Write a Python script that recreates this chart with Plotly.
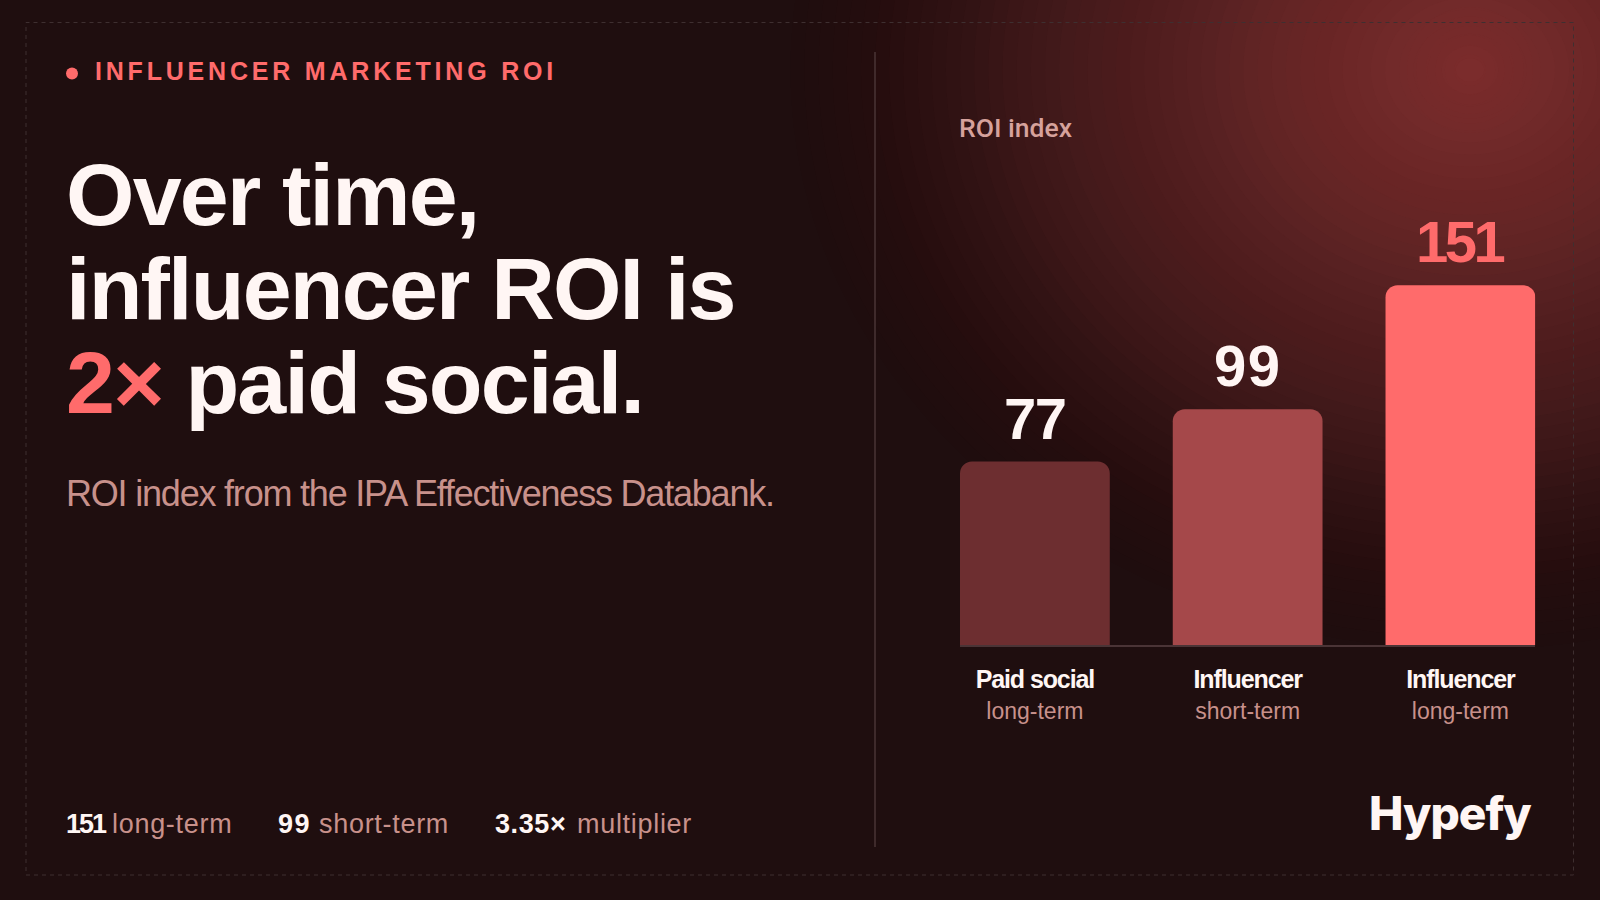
import plotly.graph_objects as go

# ---------------- data ----------------
categories = ["Paid social", "Influencer", "Influencer"]
periods = ["long-term", "short-term", "long-term"]
roi_index = [77, 99, 151]

stat_values = ["151", "99", "3.35×"]
stat_labels = ["long-term", "short-term", "multiplier"]

eyebrow = "INFLUENCER MARKETING ROI"
headline_lines = ["Over time,", "influencer ROI is", "paid social."]
headline_accent = "2×"
subtitle = "ROI index from the IPA Effectiveness Databank."
axis_title = "ROI index"
brand = "Hypefy"

# ---------------- style ----------------
W, H = 1600, 900
BG = "#1f0e0f"
WHITE = "#fff6f4"
CORAL = "#ff6b6b"
PINK = "#c8918b"
PINK_LIGHT = "#d6a29c"
SANS = "Liberation Sans, Arial, sans-serif"
bar_colors = ["#6d2e30", "#a5484a", "#ff6b6b"]
value_colors = [WHITE, WHITE, CORAL]
value_spacing = [-1.5, 1.5, -3.5]      # letter-spacing (px) per value label
stat_spacing = [-2.0, 1.5, 0.6]        # letter-spacing (px) per stat number

annotations = []
shapes = []


def px_x(x):
    return x / W


def px_y(y):
    return 1 - y / H


def text_at(s, x, base, size, color, family=SANS, weight=400, anchor="left",
            ls=None, asc=0.905, desc=0.212):
    yc = base - (asc - desc) / 2 * size
    if ls is not None:
        s = f'<span style="letter-spacing:{ls}px">{s}</span>'
    annotations.append(dict(
        text=s, x=px_x(x), y=px_y(yc), xref="paper", yref="paper",
        xanchor=anchor, yanchor="middle", showarrow=False, borderpad=0,
        font=dict(family=family, size=size, color=color, weight=weight)))


# ---------------- background glow (stacked ellipses) ----------------
def interp(u, pts):
    if u <= pts[0][0]:
        return pts[0][1]
    for (u0, v0), (u1, v1) in zip(pts[:-1], pts[1:]):
        if u <= u1:
            return v0 + (v1 - v0) * (u - u0) / (u1 - u0)
    return pts[-1][1]


glow_profile = [(0, 0.88), (0.11, 0.85), (0.31, 0.71), (0.58, 0.45),
                (0.73, 0.27), (0.87, 0.10), (1.0, 0.0)]
N = 48
cx, cy, rx, ry = 1470, 70, 680, 580
S = lambda u: 1 - interp(u, glow_profile)
for k in range(N, 0, -1):
    mid_k = (k - 0.5) / N
    mid_next = (k + 0.5) / N
    s_next = 1.0 if k == N else S(mid_next)
    a = 1 - S(mid_k) / s_next
    r = k / N
    shapes.append(dict(type="circle", xref="paper", yref="paper",
                       x0=px_x(cx - rx * r), x1=px_x(cx + rx * r),
                       y0=px_y(cy + ry * r), y1=px_y(cy - ry * r),
                       fillcolor="rgb(138,59,59)", opacity=max(a, 0),
                       line=dict(width=0), layer="below"))
for f in [1.0, 0.85, 0.7, 0.55, 0.4, 0.25]:
    r = 63 * f
    shapes.append(dict(type="circle", xref="paper", yref="paper",
                       x0=px_x(cx - r), x1=px_x(cx + r),
                       y0=px_y(cy + r), y1=px_y(cy - r),
                       fillcolor="rgb(160,66,66)", opacity=0.035,
                       line=dict(width=0), layer="below"))

# dashed frame and divider
shapes.append(dict(type="rect", xref="paper", yref="paper",
                   x0=px_x(26), x1=px_x(1573.5), y0=px_y(875), y1=px_y(22.5),
                   line=dict(color="#3e2f30", width=1, dash="4px,4px"),
                   fillcolor="rgba(0,0,0,0)", layer="below"))
shapes.append(dict(type="line", xref="paper", yref="paper",
                   x0=px_x(875), x1=px_x(875), y0=px_y(52), y1=px_y(847),
                   line=dict(color="#4a3536", width=1.5), layer="below"))
# eyebrow dot
shapes.append(dict(type="circle", xref="paper", yref="paper",
                   x0=px_x(66), x1=px_x(78), y0=px_y(79.5), y1=px_y(67.5),
                   fillcolor=CORAL, line=dict(width=0)))

# ---------------- left text ----------------
text_at(eyebrow, 93.5, 80, 25, CORAL, weight=700, ls=3.8)
text_at(headline_lines[0], 65, 225, 88, WHITE, weight=700, ls=-1.8)
text_at(headline_lines[1], 65, 318.5, 88, WHITE, weight=700, ls=-1.8)
text_at(f'<span style="color:{CORAL}">{headline_accent}</span> {headline_lines[2]}',
        65, 412.5, 88, WHITE, weight=700, ls=-1.8)
text_at(subtitle, 64.5, 505.5, 36, PINK, ls=-1.2)

stat_num_x = [65, 276.5, 494]
stat_lbl_x = [111, 317.5, 576]
for v, lab, xn, xl, sp in zip(stat_values, stat_labels, stat_num_x, stat_lbl_x, stat_spacing):
    text_at(v, xn, 833.3, 27, WHITE, weight=700, ls=sp)
    text_at(lab, xl, 833.3, 27, PINK, ls=0.7)

# ---------------- right panel ----------------
text_at(axis_title, 958, 137, 26.5, PINK_LIGHT, family="Roboto, Liberation Sans, sans-serif",
        weight=500, asc=0.927, desc=0.244)
text_at(brand, 1532, 829.3, 46, WHITE, family="Inter, Liberation Sans, sans-serif",
        weight=800, anchor="right", ls=-1, asc=0.969, desc=0.242)

xs = list(range(len(roi_index)))
for i, v in enumerate(roi_index):
    annotations.append(dict(
        text=f'<span style="letter-spacing:{value_spacing[i]}px">{v}</span>', x=i, y=v,
        xref="x", yref="y", xanchor="center", yanchor="bottom", yshift=10,
        showarrow=False, borderpad=0,
        font=dict(family=SANS, size=58, color=value_colors[i], weight=700)))

tick_text = [
    f'<b><span style="letter-spacing:-1.1px;font-size:25px;color:{WHITE}">{c}</span></b>'
    f'<br><span style="font-size:23px;color:{PINK}">{p}</span>'
    for c, p in zip(categories, periods)
]

fig = go.Figure()
fig.add_bar(x=xs, y=roi_index, width=0.704,
            marker=dict(color=bar_colors, cornerradius=12, line=dict(width=0)),
            hoverinfo="skip")

fig.update_layout(
    width=W, height=H, autosize=False,
    margin=dict(l=0, r=0, t=0, b=0, pad=0),
    paper_bgcolor=BG, plot_bgcolor="rgba(0,0,0,0)",
    showlegend=False,
    shapes=shapes, annotations=annotations,
    xaxis=dict(domain=[px_x(960), px_x(1535.3)], range=[-0.352, 2.352],
               tickvals=xs, ticktext=tick_text, showgrid=False, zeroline=False,
               showline=True, linecolor="#4a3436", linewidth=1.5, ticks="",
               ticklabelstandoff=12,
               tickfont=dict(family=SANS, size=24, color=WHITE), fixedrange=True),
    yaxis=dict(domain=[px_y(645), px_y(168.6)], range=[0, 200], visible=False,
               fixedrange=True),
)

fig.write_html("out.html", config={"displayModeBar": False},
               post_script="document.body.style.margin='0';document.body.style.overflow='hidden';")
